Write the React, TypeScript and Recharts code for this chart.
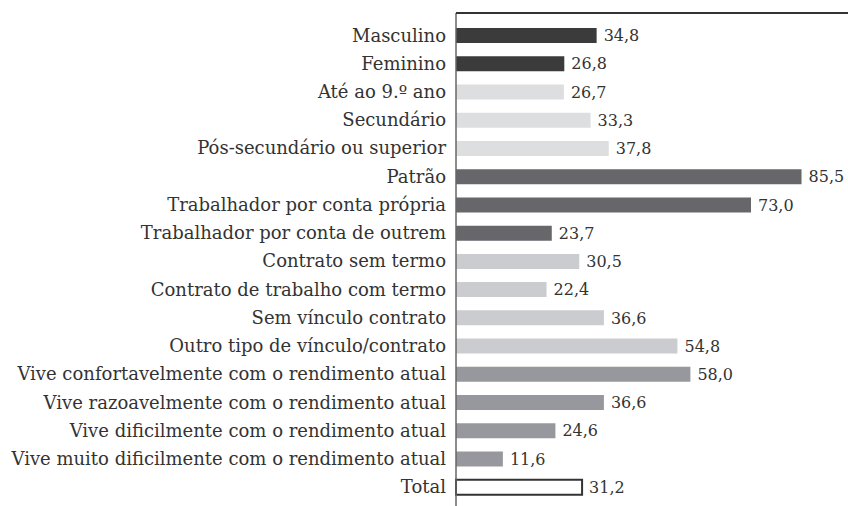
import { BarChart, Bar, XAxis, YAxis, Cell, LabelList } from 'recharts'

// Categories, top to bottom
const categories = [
  'Masculino',
  'Feminino',
  'Até ao 9.º ano',
  'Secundário',
  'Pós-secundário ou superior',
  'Patrão',
  'Trabalhador por conta própria',
  'Trabalhador por conta de outrem',
  'Contrato sem termo',
  'Contrato de trabalho com termo',
  'Sem vínculo contrato',
  'Outro tipo de vínculo/contrato',
  'Vive confortavelmente com o rendimento atual',
  'Vive razoavelmente com o rendimento atual',
  'Vive dificilmente com o rendimento atual',
  'Vive muito dificilmente com o rendimento atual',
  'Total',
]

const values = [34.8, 26.8, 26.7, 33.3, 37.8, 85.5, 73.0, 23.7, 30.5, 22.4, 36.6, 54.8, 58.0, 36.6, 24.6, 11.6, 31.2]

// group of each row (sexo, escolaridade, situação, vínculo, rendimento, total)
const groups = ['sexo', 'sexo', 'esc', 'esc', 'esc', 'sit', 'sit', 'sit', 'vin', 'vin', 'vin', 'vin', 'ren', 'ren', 'ren', 'ren', 'total']

const groupColors: Record<string, string> = {
  sexo: '#3b3b3c',
  esc: '#dddee0',
  sit: '#67676b',
  vin: '#cbccd0',
  ren: '#97989d',
  total: '#ffffff',
}

const fontFamily = 'DejaVu Serif'
const WIDTH = 848
const HEIGHT = 506
const TOP = 13
const AXIS_W = 456

const data = categories.map((name, i) => ({ name, value: values[i], group: groups[i] }))

const fmt = (v: number) => v.toFixed(1).replace('.', ',')

export default function App() {
  return (
    <div style={{ position: 'absolute', left: 0, top: 0, width: WIDTH, height: HEIGHT, background: '#fff', fontFamily }}>
      <BarChart
        width={WIDTH}
        height={HEIGHT}
        data={data}
        layout="vertical"
        margin={{ top: TOP, right: 0, bottom: 0, left: 0 }}
        style={{ fontFamily }}
      >
        <XAxis type="number" domain={[0, 97]} hide />
        <YAxis
          type="category"
          dataKey="name"
          width={AXIS_W}
          interval={0}
          tickLine={false}
          tickSize={0}
          tickMargin={10}
          padding={{ top: 8, bottom: 5 }}
          axisLine={{ stroke: '#666', strokeWidth: 1.5 }}
          tick={{ fill: '#333', fontSize: 18, style: { fontFamily } }}
        />
        <Bar dataKey="value" barSize={15} isAnimationActive={false}>
          {data.map((d, i) => (
            <Cell
              key={`cell-${i}`}
              fill={groupColors[d.group]}
              stroke={d.group === 'total' ? '#333' : 'none'}
              strokeWidth={d.group === 'total' ? 2 : 0}
            />
          ))}
          <LabelList
            dataKey="value"
            position="right"
            offset={7}
            formatter={(v: number) => fmt(v)}
            style={{ fill: '#333', fontSize: 16, fontFamily }}
          />
        </Bar>
      </BarChart>
      {/* top border of the plot frame */}
      <div
        style={{
          position: 'absolute',
          left: AXIS_W,
          top: TOP - 1,
          width: WIDTH - AXIS_W,
          height: 0,
          borderTop: '2px solid #333',
        }}
      />
    </div>
  )
}
